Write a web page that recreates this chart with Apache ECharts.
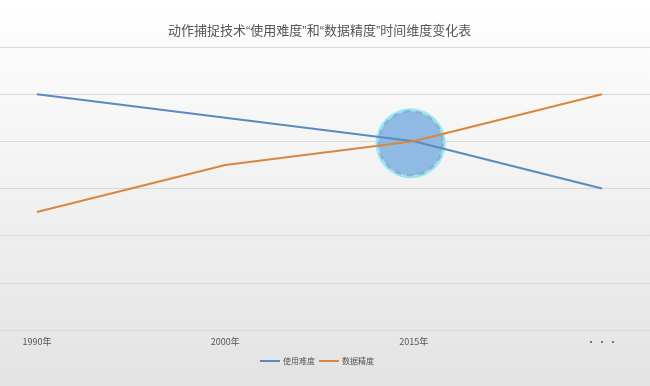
<!DOCTYPE html>
<html><head><meta charset="utf-8">
<script src="https://cdn.jsdelivr.net/npm/echarts@6/dist/echarts.min.js"></script>
<style>html,body{margin:0;padding:0;}#c{width:650px;height:386px;}</style>
</head><body><div id="c"></div>
<script>
const titleText = '动作捕捉技术“使用难度”和“数据精度”时间维度变化表';
const categories = ['1990年', '2000年', '2015年', '· · ·'];
const seriesNames = ['使用难度', '数据精度'];
const difficulty = [5, 4.5, 4, 3];
const precision = [2.5, 3.5, 4, 5];
const highlight = [[2, 4]];
const yMin = 0, yMax = 6, yInterval = 1;

const chart = echarts.init(document.getElementById('c'));
chart.setOption({
  backgroundColor: {
    type: 'linear', x: 0, y: 0, x2: 0, y2: 1,
    colorStops: [{offset: 0, color: '#ffffff'}, {offset: 1, color: '#e3e3e3'}]
  },
  animation: false,
  title: {
    text: titleText, left: 163, top: 20,
    textStyle: {fontSize: 13, fontWeight: 'normal', color: '#555', fontFamily: 'Liberation Sans, Noto Sans CJK SC'}
  },
  legend: {
    data: seriesNames, top: 352, left: 255, itemWidth: 20, itemHeight: 8, itemGap: 4,
    icon: 'path://M0,3 L20,3 L20,5 L0,5 Z',
    textStyle: {fontSize: 8, color: '#555', fontFamily: 'Noto Sans CJK SC', padding: [0, 0, 0, -2]}
  },
  grid: [
    {left: 37, right: 48, top: 47, bottom: 56},
    {left: 0, right: 0, top: 47, bottom: 56}
  ],
  xAxis: [
    {type: 'category', gridIndex: 0, data: categories, boundaryGap: false,
     axisLine: {show: false}, axisTick: {show: false},
     axisLabel: {fontSize: 9, color: '#555', margin: 7, fontFamily: 'Noto Sans CJK SC'}},
    {type: 'value', gridIndex: 1, show: false, min: 0, max: 1}
  ],
  yAxis: [
    {type: 'value', gridIndex: 0, min: yMin, max: yMax, interval: yInterval, show: false},
    {type: 'value', gridIndex: 1, min: yMin, max: yMax, interval: yInterval,
     axisLabel: {show: false}, axisLine: {show: false}, axisTick: {show: false},
     splitLine: {show: true, lineStyle: {color: '#d8d8d8', width: 1}}}
  ],
  series: [
    {type: 'scatter', xAxisIndex: 0, yAxisIndex: 0, data: highlight, symbolSize: 70, z: 1,
     symbolOffset: [-3, 2], silent: true, itemStyle: {color: '#7ee3f1'}},
    {type: 'scatter', xAxisIndex: 0, yAxisIndex: 0, data: highlight, symbolSize: 64, z: 2,
     symbolOffset: [-3, 2], silent: true,
     itemStyle: {color: '#8cafdf', borderColor: '#8fa3bf', borderWidth: 2, borderType: [6, 6]}},
    {name: seriesNames[0], type: 'line', xAxisIndex: 0, yAxisIndex: 0, data: difficulty,
     showSymbol: false, symbol: 'none', z: 3, color: '#5a8bbf', lineStyle: {width: 2, color: '#5a8bbf'}},
    {name: seriesNames[1], type: 'line', xAxisIndex: 0, yAxisIndex: 0, data: precision,
     showSymbol: false, symbol: 'none', z: 3, color: '#db853d', lineStyle: {width: 2, color: '#db853d'}}
  ]
});
</script></body></html>
